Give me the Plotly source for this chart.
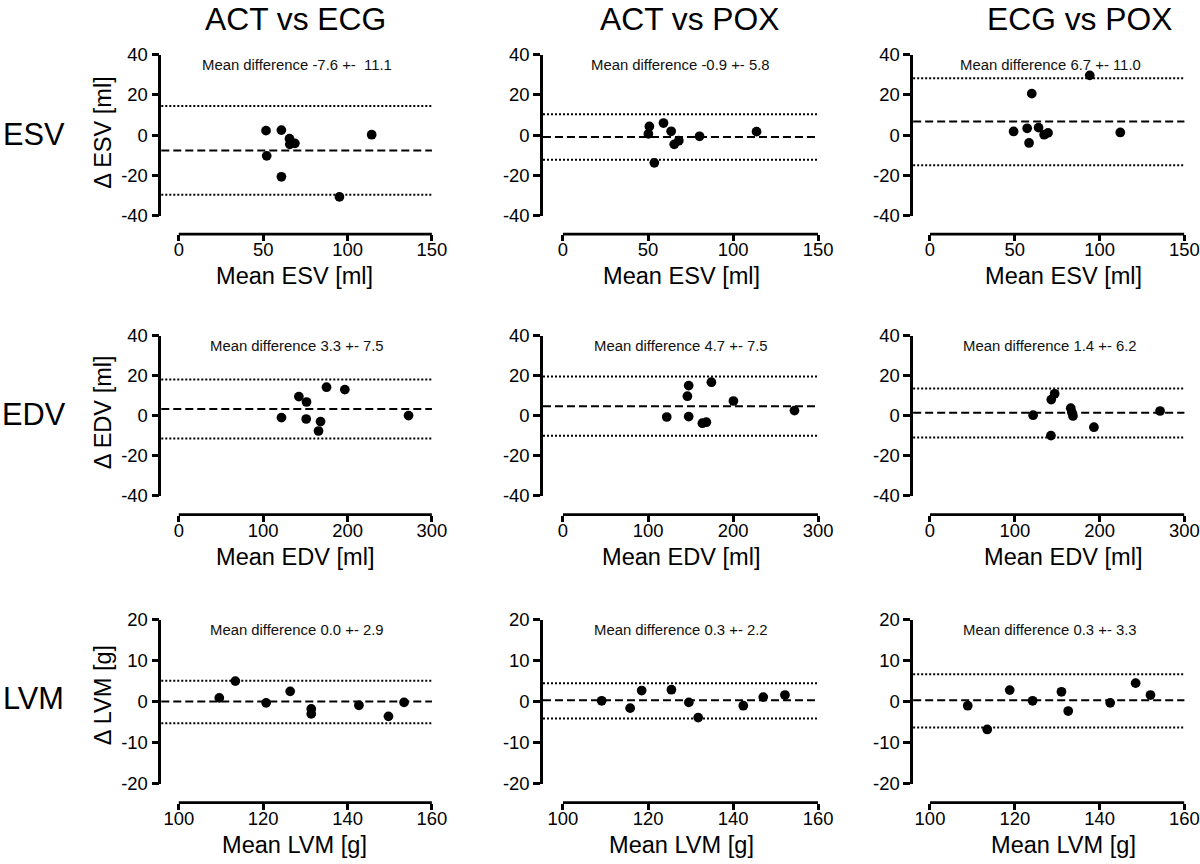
import plotly.graph_objects as go

FONT = "Arial, Liberation Sans, Helvetica, sans-serif"

# ---------------- data ----------------
row_labels = ["ESV", "EDV", "LVM"]
col_titles = ["ACT vs ECG", "ACT vs POX", "ECG vs POX"]
y_titles = ["\u0394 ESV [ml]", "\u0394 EDV [ml]", "\u0394 LVM [g]"]
x_titles = ["Mean ESV [ml]", "Mean EDV [ml]", "Mean LVM [g]"]

x_ranges = [(0, 150), (0, 300), (100, 160)]
x_ticks = [[0, 50, 100, 150], [0, 100, 200, 300], [100, 120, 140, 160]]
x_ticktext = [["0", "50", "100", "150"], ["0", "100", "200", "300"], ["100", "120", "140", "160"]]
y_ranges = [(-40, 40), (-40, 40), (-20, 20)]
y_ticks = [[-40, -20, 0, 20, 40], [-40, -20, 0, 20, 40], [-20, -10, 0, 10, 20]]
y_ticktext = [["-40", "-20", "0", "20", "40"], ["-40", "-20", "0", "20", "40"],
              ["-20", "-10", "0", "10", "20"]]

esv_act_ecg_mean = [51.7, 52.1, 60.8, 60.8, 65.6, 65.8, 68.8, 95.2, 114.3]
esv_act_ecg_diff = [2.2, -10.3, 2.5, -20.7, -1.8, -4.6, -4.1, -30.7, 0.2]
esv_act_pox_mean = [50.8, 50.2, 59.1, 63.6, 65.4, 68.1, 53.7, 80.3, 113.8]
esv_act_pox_diff = [4.3, 0.6, 6.0, 1.9, -4.6, -2.8, -13.8, -0.6, 1.7]
esv_ecg_pox_mean = [49.3, 57.3, 58.4, 60.0, 64.0, 67.3, 69.6, 94.2, 112.2]
esv_ecg_pox_diff = [1.8, 3.4, -3.9, 20.6, 3.7, 0.2, 1.1, 29.7, 1.3]
edv_act_ecg_mean = [121.7, 142.3, 151.4, 151.0, 168.0, 165.6, 175.1, 196.8, 272.3]
edv_act_ecg_diff = [-1.0, 9.5, 6.8, -1.7, -3.0, -7.7, 14.2, 13.0, 0.0]
edv_act_pox_mean = [122.0, 146.3, 147.8, 147.8, 163.9, 168.6, 174.5, 200.4, 272.2]
edv_act_pox_diff = [-0.7, 9.7, 15.0, -0.5, -3.8, -3.3, 16.7, 7.3, 2.5]
edv_ecg_pox_mean = [121.6, 143.0, 147.0, 142.6, 166.0, 167.3, 168.6, 193.3, 271.3]
edv_ecg_pox_diff = [0.2, 8.0, 10.9, -10.0, 3.7, 1.6, -0.2, -5.8, 2.3]
lvm_act_ecg_mean = [109.6, 113.4, 120.7, 126.4, 131.4, 131.4, 142.7, 149.7, 153.4]
lvm_act_ecg_diff = [0.9, 5.0, -0.3, 2.5, -1.8, -3.0, -0.9, -3.6, -0.2]
lvm_act_pox_mean = [109.1, 115.8, 118.5, 125.5, 129.6, 131.8, 142.4, 147.1, 152.2]
lvm_act_pox_diff = [0.2, -1.6, 2.7, 2.9, -0.2, -3.9, -1.0, 1.1, 1.6]
lvm_ecg_pox_mean = [108.9, 113.5, 118.8, 124.2, 131.0, 132.6, 142.5, 148.5, 152.0]
lvm_ecg_pox_diff = [-1.0, -6.8, 2.8, 0.2, 2.4, -2.3, -0.3, 4.5, 1.6]

panel_means = [
    [esv_act_ecg_mean, esv_act_pox_mean, esv_ecg_pox_mean],
    [edv_act_ecg_mean, edv_act_pox_mean, edv_ecg_pox_mean],
    [lvm_act_ecg_mean, lvm_act_pox_mean, lvm_ecg_pox_mean],
]
panel_diffs = [
    [esv_act_ecg_diff, esv_act_pox_diff, esv_ecg_pox_diff],
    [edv_act_ecg_diff, edv_act_pox_diff, edv_ecg_pox_diff],
    [lvm_act_ecg_diff, lvm_act_pox_diff, lvm_ecg_pox_diff],
]

bias = [[-7.6, -0.9, 6.7], [3.3, 4.7, 1.4], [0.0, 0.3, 0.3]]
upper_loa = [[14.4, 10.4, 28.3], [18.1, 19.6, 13.5], [5.1, 4.5, 6.7]]
lower_loa = [[-29.7, -12.2, -15.0], [-11.5, -10.1, -10.9], [-5.3, -4.1, -6.3]]
bias_text = [
    ["Mean difference -7.6 +-  11.1", "Mean difference -0.9 +- 5.8", "Mean difference 6.7 +- 11.0"],
    ["Mean difference 3.3 +- 7.5", "Mean difference 4.7 +- 7.5", "Mean difference 1.4 +- 6.2"],
    ["Mean difference 0.0 +- 2.9", "Mean difference 0.3 +- 2.2", "Mean difference 0.3 +- 3.3"],
]

W, H = 1200, 864
# target positions (pixels in the final picture)
col_left = [160.5, 542, 912]
col_zero = [178, 562, 929]
col_right = [431, 817, 1186]
row_top = [53, 334, 618]
row_bottom = [214, 494, 782]
row_xaxis = [232.5, 513, 801]
col_title_x = [295, 688, 1078]
xtitle_x = [294, 680, 1062]

# viewer rescales the page slightly; map target picture pixels back to page pixels
SX, OX = 0.987, -0.7
SY, OY = 0.9757, 9.4


def px_x(p):
    return min(max((p - OX) / SX / W, 0.0), 0.9995)


def px_y(p):
    return 1 - min(max((p - OY) / SY / H, 0.0), 1.0)


FS = 1 / SY  # font/marker compensation

fig = go.Figure()
shapes = []
annotations = []

for r in range(3):
    for c in range(3):
        k = r * 3 + c + 1
        sx = "" if k == 1 else str(k)
        xmin, xmax = x_ranges[r]
        span = xmax - xmin
        left_ext = (col_zero[c] - col_left[c]) / (col_right[c] - col_zero[c]) * span
        rng = [xmin - left_ext, xmax]
        fig.add_trace(go.Scatter(
            x=panel_means[r][c], y=panel_diffs[r][c], mode="markers",
            marker=dict(size=9.5 * FS, color="black"),
            xaxis="x" + sx, yaxis="y" + sx, showlegend=False, hoverinfo="skip",
        ))
        fig.layout["xaxis" + sx] = dict(
            domain=[px_x(col_left[c]), px_x(col_right[c])], range=rng,
            anchor="free", position=px_y(row_xaxis[r]),
            showline=False, showgrid=False, zeroline=False,
            ticks="outside", ticklen=6, tickwidth=2.5, tickcolor="black",
            tickvals=x_ticks[r], ticktext=x_ticktext[r],
            tickfont=dict(family=FONT, size=18 * FS, color="black"), fixedrange=True,
        )
        try:
            fig.layout["xaxis" + sx].ticklabelstandoff = -7
        except Exception:
            pass
        fig.layout["yaxis" + sx] = dict(
            domain=[px_y(row_bottom[r]), px_y(row_top[r])], range=list(y_ranges[r]),
            anchor="x" + sx, showline=True, linewidth=2.5, linecolor="black",
            showgrid=False, zeroline=False,
            ticks="outside", ticklen=7, tickwidth=2.5, tickcolor="black",
            tickvals=y_ticks[r], ticktext=y_ticktext[r],
            tickfont=dict(family=FONT, size=18 * FS, color="black"), fixedrange=True,
        )
        # detached x-axis line spanning the data range only
        shapes.append(dict(type="line", xref="x" + sx, yref="paper",
                           x0=xmin, x1=xmax, y0=px_y(row_xaxis[r]), y1=px_y(row_xaxis[r]),
                           line=dict(color="black", width=2.8)))
        # mean difference (bias)
        shapes.append(dict(type="line", xref="x" + sx + " domain", yref="y" + sx,
                           x0=0, x1=1, y0=bias[r][c], y1=bias[r][c], layer="below",
                           line=dict(color="black", width=2, dash="8px,4px")))
        # limits of agreement
        for v in (upper_loa[r][c], lower_loa[r][c]):
            shapes.append(dict(type="line", xref="x" + sx + " domain", yref="y" + sx,
                               x0=0, x1=1, y0=v, y1=v, layer="below",
                               line=dict(color="black", width=2, dash="2px,2px")))
        annotations.append(dict(
            text=bias_text[r][c], xref="paper", yref="paper",
            x=px_x((col_left[c] + col_right[c]) / 2), y=px_y(row_top[r] + 10),
            xanchor="center", yanchor="middle", showarrow=False,
            font=dict(family=FONT, size=14.5 * FS, color="#111111"),
        ))
        annotations.append(dict(
            text=x_titles[r], xref="paper", yref="paper",
            x=px_x(xtitle_x[c]), y=px_y(row_xaxis[r] + 42),
            xanchor="center", yanchor="middle", showarrow=False,
            font=dict(family=FONT, size=23 * FS, color="black"),
        ))

for c in range(3):
    annotations.append(dict(
        text=col_titles[c], xref="paper", yref="paper",
        x=px_x(col_title_x[c]), y=px_y(17), xanchor="center", yanchor="middle",
        showarrow=False, font=dict(family=FONT, size=31 * FS, color="black"),
    ))

row_label_y = [133, 413, 697]
ytitle_y = [130.5, 411, 694]
for r in range(3):
    annotations.append(dict(
        text=row_labels[r], xref="paper", yref="paper",
        x=px_x(33), y=px_y(row_label_y[r]), xanchor="center", yanchor="middle",
        showarrow=False, font=dict(family=FONT, size=30 * FS, color="black"),
    ))
    annotations.append(dict(
        text=y_titles[r], xref="paper", yref="paper", textangle=-90,
        x=px_x(102), y=px_y(ytitle_y[r]), xanchor="center", yanchor="middle",
        showarrow=False, font=dict(family=FONT, size=23 * FS, color="black"),
    ))

fig.update_layout(
    autosize=True, margin=dict(l=0, r=0, t=0, b=0),
    paper_bgcolor="white", plot_bgcolor="white",
    shapes=shapes, annotations=annotations, showlegend=False,
)

fig.write_html(
    "out.html", config={"displayModeBar": False, "responsive": False},
    default_width=f"{W}px",
    default_height=f"{H}px; position:absolute; left:0px; top:0px",
)
